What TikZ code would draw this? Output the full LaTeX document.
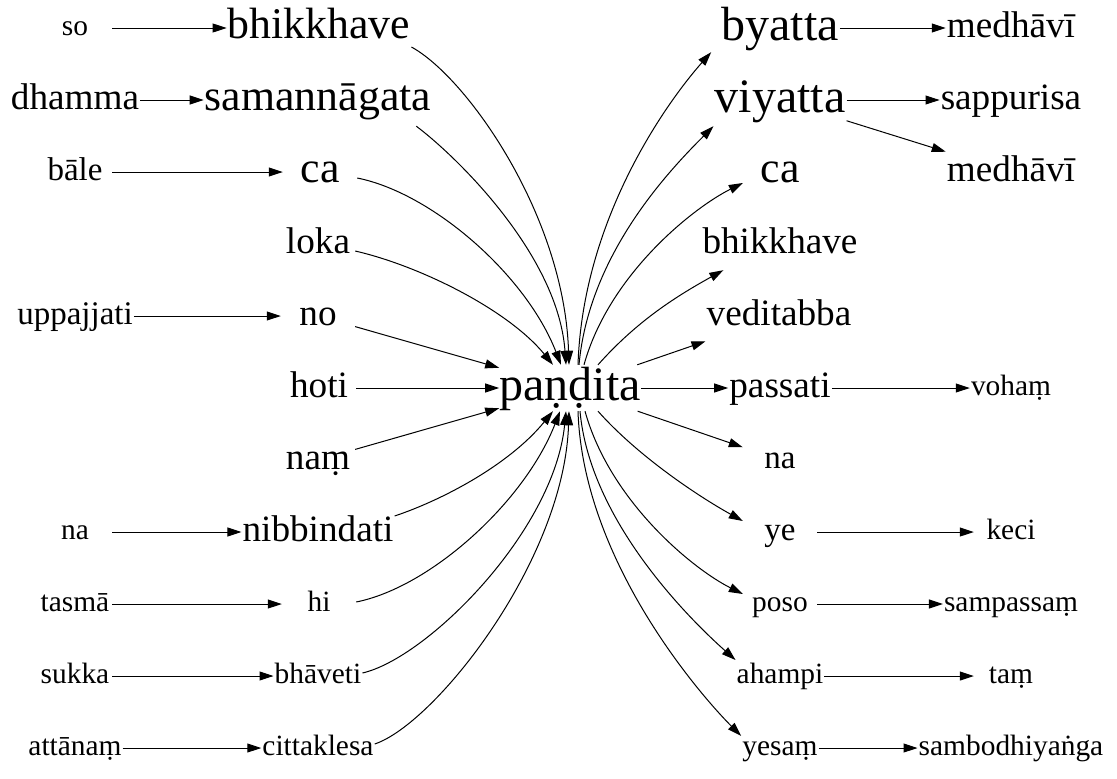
\documentclass[tikz,border=0pt]{standalone}
\usepackage{fontspec}
\setmainfont{Liberation Serif}[Scale=1.2]
\usepackage{tikz}
\usetikzlibrary{
  arrows.meta,
  positioning
}

\begin{document}
\begin{tikzpicture}[x=1pt, y=-1pt,
  word/.style={inner xsep=1pt, inner ysep=0pt, minimum width=74pt, minimum height=52pt},
  wS/.style={word, font=\fontsize{24.5}{24.5}\selectfont, text height=19.6pt, text depth=4.9pt},
  wSS/.style={word, font=\fontsize{27.5}{27.5}\selectfont, text height=22pt, text depth=5.5pt},
  wM/.style={word, font=\fontsize{31}{31}\selectfont, text height=24.8pt, text depth=6.2pt},
  wL/.style={word, font=\fontsize{36.5}{36.5}\selectfont, text height=29.2pt, text depth=7.3pt},
  wXL/.style={word, font=\fontsize{40}{40}\selectfont, text height=32pt, text depth=8pt},
  link/.style={line width=1pt, -{Triangle[length=14pt, width=9pt]}}]
\useasboundingbox (0,0) rectangle (1117,779);

% centre word
\node[wXL, inner xsep=0pt, minimum height=46pt] (pand) at (570,388) {paṇḍita};

% words before
\node[wS]  (so)     at (75,28)  {so};
\node[wM]  (dhamma) at (75,100) {dhamma};
\node[wSS] (bale)   at (75,172) {bāle};
\node[wSS] (uppaj)  at (75,316) {uppajjati};
\node[wS]  (naL)    at (75,532) {na};
\node[wS]  (tasma)  at (75,604) {tasmā};
\node[wS]  (sukka)  at (75,676) {sukka};
\node[wS]  (attan)  at (75,748) {attānaṃ};

\node[wL] (bhikL) at (319,28)  {bhikkhave};
\node[wL] (saman) at (318,100) {samannāgata};
\node[wL] (caL)   at (320,172) {ca};
\node[wM] (loka)  at (318,244) {loka};
\node[wM] (no)    at (318,316) {no};
\node[wM] (hoti)  at (319,388) {hoti};
\node[wM] (nam)   at (318,460) {naṃ};
\node[wM] (nibb)  at (318,532) {nibbindati};
\node[wS] (hi)    at (319,604) {hi};
\node[wS] (bhav)  at (318,676) {bhāveti};
\node[wS] (citta) at (318,748) {cittaklesa};

% words after
\node[wXL] (byatta)  at (780,28)  {byatta};
\node[wXL] (viyatta) at (780,100) {viyatta};
\node[wL]  (caR)     at (780,172) {ca};
\node[wM]  (bhikR)   at (780,244) {bhikkhave};
\node[wM]  (vedit)   at (779,316) {veditabba};
\node[wM]  (passati) at (780,388) {passati};
\node[wSS] (naR)     at (780,460) {na};
\node[wSS] (ye)      at (780,532) {ye};
\node[wS]  (poso)    at (780,604) {poso};
\node[wS]  (ahampi)  at (780,676) {ahampi};
\node[wS]  (yesam)   at (780,748) {yesaṃ};

\node[wM] (medhA) at (1011,28)  {medhāvī};
\node[wM] (sappu) at (1011,100) {sappurisa};
\node[wM] (medhB) at (1011,172) {medhāvī};
\node[wS] (voham) at (1011,388) {vohaṃ};
\node[wS] (keci)  at (1011,532) {keci};
\node[wS] (sampa) at (1011,604) {sampassaṃ};
\node[wS] (tam)   at (1011,676) {taṃ};
\node[wS] (sambo) at (1011,748) {sambodhiyaṅga};

% straight links
\draw[link] (so) -- (bhikL);
\draw[link] (dhamma) -- (saman);
\draw[link] (bale) -- (caL);
\draw[link] (uppaj) -- (no);
\draw[link] (naL) -- (nibb);
\draw[link] (tasma) -- (hi);
\draw[link] (sukka) -- (bhav);
\draw[link] (attan) -- (citta);
\draw[link] (no) -- (pand);
\draw[link] (hoti) -- (pand);
\draw[link] (nam) -- (pand);
\draw[link] (pand) -- (vedit);
\draw[link] (pand) -- (passati);
\draw[link] (pand) -- (naR);
\draw[link] (byatta) -- (medhA);
\draw[link] (viyatta) -- (sappu);
\draw[link] (viyatta) -- (medhB);
\draw[link] (passati) -- (voham);
\draw[link] (ye) -- (keci);
\draw[link] (poso) -- (sampa);
\draw[link] (ahampi) -- (tam);
\draw[link] (yesam) -- (sambo);

% curved links into paṇḍita
\draw[link] ([yshift=-19pt]bhikL.east) .. controls +(55,30) and +(-5,-150) .. ([xshift=-1pt]pand.north);
\draw[link] ([xshift=-16pt]saman.south east) .. controls +(40,30) and +(-8,-110) .. ([xshift=-4pt]pand.north);
\draw[link] ([yshift=-6pt]caL.east) .. controls +(75,15) and +(-35,-90) .. ([xshift=-9pt]pand.north);
\draw[link] ([yshift=-7pt]loka.east) .. controls +(65,15) and +(-45,-55) .. ([xshift=-17pt]pand.north);
\draw[link] ([yshift=16pt]nibb.east) .. controls +(45,-15) and +(-45,55) .. ([xshift=-17pt]pand.south);
\draw[link] ([yshift=2pt]hi.east) .. controls +(75,-15) and +(-35,90) .. ([xshift=-10pt]pand.south);
\draw[link] ([yshift=3pt]bhav.east) .. controls +(65,-15) and +(-12,120) .. ([xshift=-4pt]pand.south);
\draw[link] ([yshift=4pt]citta.east) .. controls +(60,-20) and +(-5,150) .. ([xshift=-1pt]pand.south);

% curved links out of paṇḍita
\draw[link] ([xshift=8pt]pand.north) .. controls +(5,-150) and +(-40,45) .. ([xshift=-9pt,yshift=2pt]byatta.south west);
\draw[link] ([xshift=9pt]pand.north) .. controls +(10,-110) and +(-45,45) .. (viyatta.south west);
\draw[link] ([xshift=14pt]pand.north) .. controls +(25,-90) and +(-50,25) .. ([yshift=-11pt]caR.west);
\draw[link] ([xshift=28pt]pand.north) .. controls +(40,-45) and +(-45,25) .. ([xshift=22pt]bhikR.south west);
\draw[link] ([xshift=28pt]pand.south) .. controls +(40,45) and +(-45,-25) .. ([yshift=11pt]ye.west);
\draw[link] ([xshift=15pt]pand.south) .. controls +(25,90) and +(-50,-25) .. ([yshift=10pt]poso.west);
\draw[link] ([xshift=10pt]pand.south) .. controls +(10,110) and +(-45,-40) .. ([yshift=16pt]ahampi.west);
\draw[link] ([xshift=8pt]pand.south) .. controls +(5,150) and +(-40,-40) .. ([yshift=12pt]yesam.west);
\end{tikzpicture}
\end{document}
